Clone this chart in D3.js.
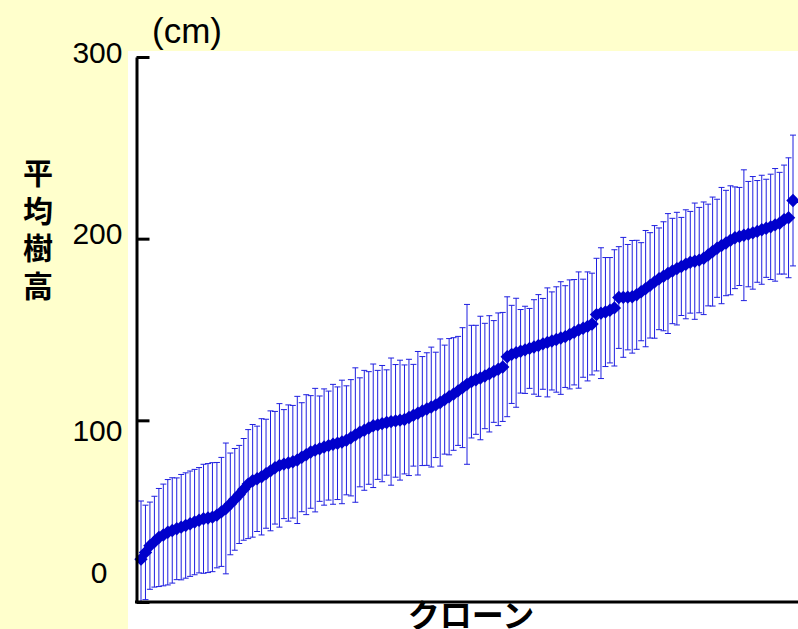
<!DOCTYPE html>
<html lang="ja">
<head>
  <meta charset="UTF-8">
  <title>平均樹高</title>
  <style>
    body, html {
      margin: 0;
      padding: 0;
      background: #ffffcc;
    }
    text {
      font-family: "Liberation Sans", Arial, sans-serif;
    }
    .jp {
      font-family: "Noto Sans CJK JP", sans-serif;
      font-weight: bold;
    }
  </style>
</head>
<body>
  <svg id="svg" width="798" height="629"></svg>

  <script src="https://d3js.org/d3.v7.min.js"></script>
  <script>
    // clones sorted by mean height (cm), with standard deviation
    const clones = d3.range(1, 148)
    const meanHeight = [
      23.6, 27.3, 31, 33.2, 35.5, 36.9, 38.4, 39.4, 40.3, 41.2,
      42.1, 43.1, 44, 45, 45.8, 46.2, 46.7, 47.8, 49.6, 51.5,
      54, 56.5, 59.2, 62, 64.9, 66.7, 67.8, 68.9, 70.6, 72.2,
      73.9, 75.2, 75.9, 76.5, 77.2, 78.2, 79.7, 81.1, 82.6, 83.6,
      84.4, 85.3, 86.1, 86.8, 87.4, 88.1, 89, 90.4, 91.9, 93.4,
      94.5, 95.8, 97, 97.5, 98.2, 98.8, 99.3, 99.7, 100.1, 100.5,
      101.6, 102.8, 103.9, 105.1, 106.2, 107.3, 108.5, 109.8, 111.4, 113,
      114.5, 116.2, 118, 119.8, 121.3, 122.3, 123.3, 124.4, 125.6, 126.9,
      128.1, 129.4, 135, 136.3, 137.2, 138, 138.8, 139.6, 140.4, 141.2,
      142.1, 142.9, 143.7, 144.5, 145.3, 146.1, 147.3, 148.5, 149.7, 150.7,
      151.7, 153, 158.2, 159, 159.6, 160.6, 161.9, 167.6, 167.7, 167.8,
      168, 169.1, 170.8, 172.5, 174.3, 176.2, 177.9, 179.3, 180.8, 182.2,
      183.5, 184.7, 185.9, 187, 187.6, 188.2, 189.2, 191, 192.9, 194.7,
      196.2, 197.6, 199.1, 200.5, 201.2, 201.9, 202.5, 203.2, 204, 204.9,
      205.7, 206.5, 207.6, 208.5, 210.5, 211.5, 221
    ]
    const sdHeight = [
      32, 26, 24, 25, 27, 28, 29, 29, 28, 29, 29, 29, 29, 29, 30, 30, 30, 29, 30, 36, 28, 28, 27, 28, 30,
      31, 29, 32, 30, 33, 31, 34, 30, 32, 31, 35, 30, 33, 31, 34, 29, 32, 30, 33, 31, 34, 30, 32, 37, 30,
      33, 31, 34, 30, 32, 29, 35, 31, 33, 30, 32, 28, 34, 30, 31, 33, 29, 35, 30, 32, 31, 30, 33, 44, 31,
      30, 34, 29, 32, 28, 31, 30, 33, 27, 30, 23, 24, 22, 26, 28, 25, 30, 27, 29, 31, 28, 30, 29, 32, 27,
      30, 28, 31, 36, 30, 29, 32, 28, 33, 29, 31, 30, 27, 32, 29, 31, 28, 30, 33, 29, 31, 27, 30, 28, 32,
      29, 31, 28, 30, 27, 32, 29, 30, 28, 27, 36, 29, 31, 28, 30, 27, 29, 31, 28, 30, 33, 36
    ]
    const yTicks = [0, 100, 200, 300]
    const yTickLabels = ['0', '100', '200', '300']
    const yTitle = '平均樹高'
    const xTitle = 'クローン'
    const unitLabel = '(cm)'

    const data = clones.map((c, i) => ({ clone: c, mean: meanHeight[i], sd: sdHeight[i] }))

    const svg = d3.select('#svg')

    // yellow page, white plot panel
    svg.append('rect').attr('width', 798).attr('height', 629).attr('fill', '#ffffcc')
    svg.append('rect').attr('x', 128).attr('y', 51).attr('width', 670).attr('height', 578).attr('fill', '#fff')

    const xscale = d3.scalePoint()
      .domain(clones)
      .range([141, 793])

    const yscale = d3.scaleLinear()
      .domain([0, 300])
      .range([602, 57])

    // keep error bars above the x axis
    svg.append('clipPath').attr('id', 'plotclip')
      .append('rect').attr('x', 130).attr('y', 0).attr('width', 668).attr('height', 602)

    const bars = svg.append('g')
      .attr('clip-path', 'url(#plotclip)')
      .attr('stroke', '#1f1fe0')
      .attr('stroke-width', 1)
      .selectAll('g')
      .data(data)
      .join('g')

    bars.append('line')
      .attr('x1', d => xscale(d.clone))
      .attr('x2', d => xscale(d.clone))
      .attr('y1', d => yscale(d.mean - d.sd))
      .attr('y2', d => yscale(d.mean + d.sd))
    bars.append('line') // upper cap
      .attr('x1', d => xscale(d.clone) - 3)
      .attr('x2', d => xscale(d.clone) + 3)
      .attr('y1', d => yscale(d.mean + d.sd))
      .attr('y2', d => yscale(d.mean + d.sd))
    bars.append('line') // lower cap
      .attr('x1', d => xscale(d.clone) - 3)
      .attr('x2', d => xscale(d.clone) + 3)
      .attr('y1', d => yscale(d.mean - d.sd))
      .attr('y2', d => yscale(d.mean - d.sd))

    // diamond markers (rotated squares)
    const diamond = d3.symbol(d3.symbolSquare, 90)
    svg.append('g')
      .selectAll('path')
      .data(data)
      .join('path')
      .attr('d', diamond)
      .attr('transform', d => `translate(${xscale(d.clone)},${yscale(d.mean)}) rotate(45)`)
      .attr('fill', '#0000cc')

    // y axis with inward ticks
    const labelNudge = { 0: [-15, -29], 100: [0, 11], 200: [0, -5], 300: [0, -4] }
    const yaxis = d3.axisLeft(yscale)
      .tickValues(yTicks)
      .tickFormat((d, i) => yTickLabels[i])
      .tickSizeInner(-13)
      .tickSizeOuter(0)
      .tickPadding(14)

    const ag = svg.append('g')
      .attr('transform', 'translate(136.5,0)')
      .call(yaxis)
    ag.select('.domain').attr('stroke', '#000').attr('stroke-width', 3)
    ag.selectAll('.tick line').attr('stroke', '#000').attr('stroke-width', 3)
    ag.selectAll('.tick text')
      .attr('font-size', 30)
      .attr('font-family', '"Liberation Sans", Arial, sans-serif')
      .attr('fill', '#000')
      .attr('x', d => -14 + labelNudge[d][0])
      .attr('y', d => labelNudge[d][1])

    // x axis line, no ticks
    svg.append('line')
      .attr('x1', 135).attr('x2', 798)
      .attr('y1', yscale(0)).attr('y2', yscale(0))
      .attr('stroke', '#000').attr('stroke-width', 3)

    // titles
    svg.append('text')
      .attr('x', 152).attr('y', 43)
      .attr('font-size', 35)
      .text(unitLabel)

    // vertical title, one character per line
    svg.append('g')
      .selectAll('text')
      .data(Array.from(yTitle))
      .join('text')
      .attr('class', 'jp')
      .attr('font-size', 30)
      .attr('text-anchor', 'middle')
      .attr('dominant-baseline', 'central')
      .attr('x', 38)
      .attr('y', (d, i) => 171 + i * 37.5)
      .text(d => d)

    svg.append('text')
      .attr('class', 'jp')
      .attr('x', 471).attr('y', 613)
      .attr('font-size', 32)
      .attr('text-anchor', 'middle')
      .attr('dominant-baseline', 'central')
      .text(xTitle)
  </script>
</body>
</html>
